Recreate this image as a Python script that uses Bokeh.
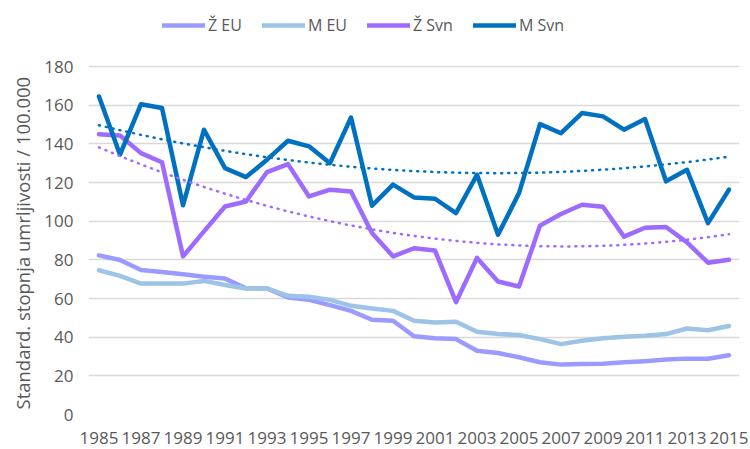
import numpy as np
from bokeh.plotting import figure
from bokeh.models import Range1d, FixedTicker, Legend, LegendItem, Title
from bokeh.embed import file_html
from bokeh.resources import INLINE

years = list(range(1985, 2016))
z_eu = [82.3, 79.9, 74.7, 73.7, 72.5, 71.3, 70.3, 65.3, 65.2, 60.5,
        59.3, 56.6, 53.6, 49.0, 48.5, 40.5, 39.4, 39.0, 33.0, 31.8,
        29.6, 27.0, 25.8, 26.1, 26.2, 27.0, 27.6, 28.4, 28.9, 28.8, 30.6]
m_eu = [74.6, 71.7, 67.7, 67.7, 67.7, 69.1, 67.0, 65.2, 65.2, 61.4,
        60.9, 59.3, 56.2, 54.8, 53.6, 48.5, 47.6, 48.0, 42.8, 41.6,
        41.1, 39.0, 36.4, 38.1, 39.4, 40.2, 40.7, 41.6, 44.5, 43.6, 45.8]
z_svn = [145.0, 144.3, 135.2, 130.5, 81.8, 94.7, 107.6, 110.2, 125.4, 129.5,
         112.8, 116.3, 115.4, 93.9, 81.8, 86.0, 84.8, 58.1, 81.0, 68.8,
         66.2, 97.7, 103.7, 108.5, 107.5, 92.0, 96.6, 97.0, 89.0, 78.5, 80.0]
m_svn = [164.5, 134.4, 160.5, 158.5, 108.2, 147.3, 127.4, 122.8, 131.8, 141.6,
         138.7, 130.0, 153.6, 108.0, 118.9, 112.3, 111.6, 104.2, 124.0, 93.0,
         114.5, 150.2, 145.5, 155.9, 154.2, 147.3, 152.8, 120.6, 126.6, 99.0, 116.3]
series_names = ["Ž EU", "M EU", "Ž Svn", "M Svn"]
series_colors = ["#9b9bff", "#9dc3e6", "#9e6bff", "#0070c0"]
x_ticks = list(range(1985, 2016, 2))
y_ticks = list(range(0, 181, 20))
y_title = "Standard. stopnja umrljivosti / 100.000"

FONT = "Open Sans"
TXT = "#595959"

# the y range reaches above the top gridline so the legend fits in the frame
p = figure(width=750, height=449, output_backend="svg", toolbar_location=None,
           x_range=Range1d(1984.5, 2015.5), y_range=Range1d(0, 210),
           min_border_left=88, min_border_right=11, min_border_top=8,
           min_border_bottom=35)
p.outline_line_color = None
p.background_fill_color = "white"

items = []
for name, col, data in zip(series_names, series_colors, [z_eu, m_eu, z_svn, m_svn]):
    r = p.line(years, data, line_color=col, line_width=4.5,
               line_join="round", line_cap="round")
    items.append(LegendItem(label=name, renderers=[r]))

# polynomial (order 2) trend lines for the Slovenian series
xs = np.array(years, dtype=float)
for col, data in [(series_colors[2], z_svn), (series_colors[3], m_svn)]:
    coef = np.polyfit(xs - 2000, np.array(data), 2)
    trend = np.polyval(coef, xs - 2000)
    p.line(years, trend, line_color=col, line_width=2.5, line_dash="1 6",
           line_cap="round")

legend = Legend(items=items, orientation="horizontal", location=(74, 378),
                padding=0, spacing=20, glyph_width=43, glyph_height=16,
                label_standoff=3, border_line_color=None,
                background_fill_alpha=0, margin=0)
legend.label_text_font = FONT
legend.label_text_font_size = "16px"
legend.label_text_color = TXT
p.add_layout(legend, "center")

p.xgrid.grid_line_color = None
p.ygrid.grid_line_color = "#d9d9d9"
p.ygrid.grid_line_width = 1.3
p.ygrid.ticker = FixedTicker(ticks=y_ticks)

p.xaxis.ticker = FixedTicker(ticks=x_ticks)
p.yaxis.ticker = FixedTicker(ticks=y_ticks)
for ax in (p.xaxis[0], p.yaxis[0]):
    ax.axis_line_color = None
    ax.major_tick_line_color = None
    ax.minor_tick_line_color = None
    ax.major_tick_out = 0
    ax.major_tick_in = 0
    ax.major_label_text_font = FONT
    ax.major_label_text_color = TXT
    ax.major_label_text_font_size = "17px"
p.xaxis.major_label_standoff = 17
p.xaxis.major_label_text_line_height = 0.8
p.yaxis.major_label_standoff = 15

ytitle = Title(text=y_title, align="left", offset=5, standoff=14,
               text_font=FONT, text_font_size="18.5px",
               text_font_style="normal", text_color=TXT)
p.add_layout(ytitle, "left")

open("out.html", "w").write(file_html(p, INLINE))
